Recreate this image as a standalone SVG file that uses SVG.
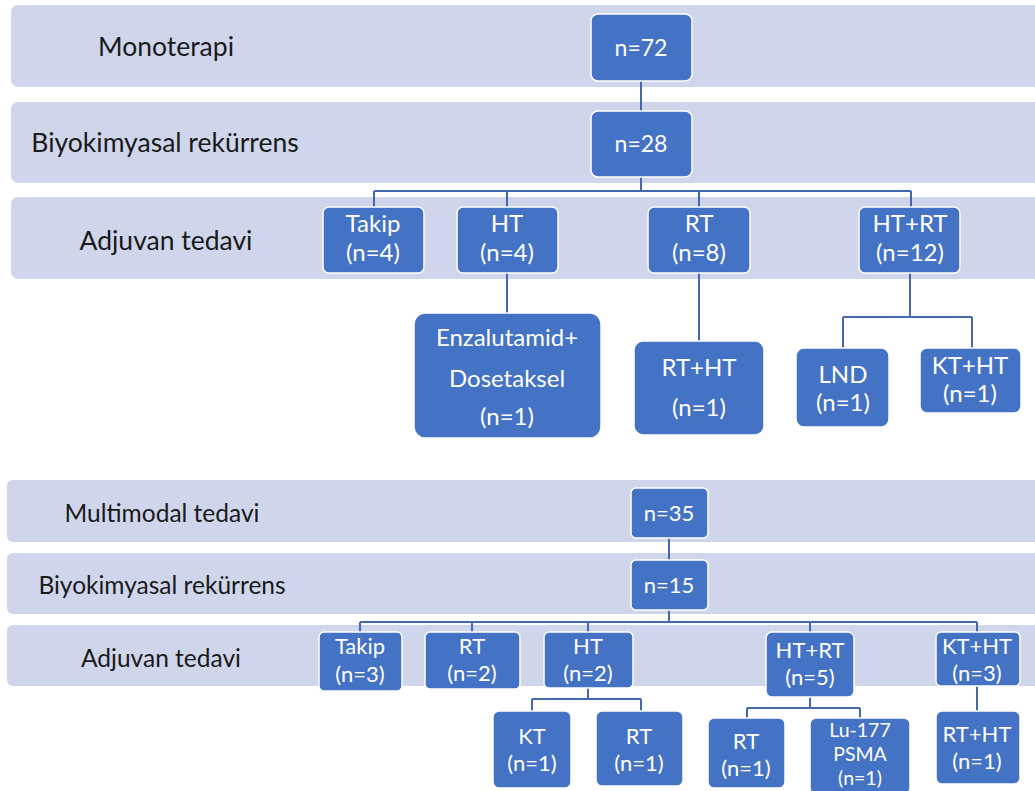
<svg xmlns="http://www.w3.org/2000/svg" width="1035" height="791" viewBox="0 0 1035 791">
<style>
.band{fill:#CFD5EA}
.node{fill:#4472C4;stroke:#FFFFFF;stroke-width:1.5}
.lbl{font-family:Lato,"Open Sans",sans-serif;fill:#1A1A1A;text-anchor:middle;dominant-baseline:central}
.t{font-family:Lato,"Open Sans",sans-serif;fill:#FFFFFF;text-anchor:middle;dominant-baseline:central}
.a{font-size:26.5px}
.b{font-size:24.5px}
.c{font-size:24px}
.d{font-size:22px}
.e{font-size:19.5px}
.conn{fill:none;stroke:#4268AE;stroke-width:2}
</style>
<rect width="1035" height="791" fill="#FFFFFF"/>
<g id="bands">
<rect class="band" x="11" y="5" width="1040" height="82" rx="7"/>
<rect class="band" x="11" y="102" width="1040" height="81" rx="7"/>
<rect class="band" x="11" y="197" width="1040" height="82" rx="7"/>
<rect class="band" x="7" y="480" width="1040" height="62" rx="6"/>
<rect class="band" x="7" y="553" width="1040" height="61" rx="6"/>
<rect class="band" x="7" y="625" width="1040" height="61" rx="6"/>
<text class="lbl a" x="166" y="46">Monoterapi</text>
<text class="lbl a" x="165" y="142">Biyokimyasal rekürrens</text>
<text class="lbl a" x="166" y="240">Adjuvan tedavi</text>
<text class="lbl b" x="162" y="512">Multimodal tedavi</text>
<text class="lbl b" x="162" y="584">Biyokimyasal rekürrens</text>
<text class="lbl b" x="161" y="657">Adjuvan tedavi</text>
</g>
<g id="connectors">
<path class="conn" d="M641 81V111"/>
<path class="conn" d="M641 177V191M374 191H911M374 191V207M507 191V207M699 191V207M911 191V207"/>
<path class="conn" d="M507 273V313"/>
<path class="conn" d="M699 273V341"/>
<path class="conn" d="M910 273V317M843 317H972M843 317V348M972 317V348"/>
<path class="conn" d="M669 538V560"/>
<path class="conn" d="M669 610V622M360 622H977M360 622V632M472 622V632M588 622V632M810 622V632M977 622V632"/>
<path class="conn" d="M588 688V699M532 699H641M532 699V711M641 699V711"/>
<path class="conn" d="M810 697V708M747 708H860M747 708V718M860 708V718"/>
<path class="conn" d="M977 686V711"/>
</g>
<g id="n72"><rect class="node" x="591" y="14" width="101" height="67" rx="7"/><text class="t c" x="641" y="47" style="font-size:23px">n=72</text></g>
<g id="n28"><rect class="node" x="591" y="111" width="101" height="66" rx="7"/><text class="t c" x="641" y="143" style="font-size:23px">n=28</text></g>
<g id="takip1"><rect class="node" x="323" y="207" width="101" height="66" rx="6"/><text class="t c" x="373" y="222">Takip</text><text class="t c" x="373" y="251">(n=4)</text></g>
<g id="ht1"><rect class="node" x="457" y="207" width="101" height="66" rx="6"/><text class="t c" x="507" y="222">HT</text><text class="t c" x="507" y="251">(n=4)</text></g>
<g id="rt1"><rect class="node" x="648" y="207" width="102" height="66" rx="6"/><text class="t c" x="699" y="222">RT</text><text class="t c" x="699" y="251">(n=8)</text></g>
<g id="htrt1"><rect class="node" x="859" y="207" width="101" height="66" rx="6"/><text class="t c" x="910" y="222">HT+RT</text><text class="t c" x="910" y="251">(n=12)</text></g>
<g id="enz"><rect class="node" x="414" y="313" width="187" height="125" rx="11"/><text class="t c" x="507" y="336">Enzalutamid+</text><text class="t c" x="507" y="377">Dosetaksel</text><text class="t c" x="507" y="415">(n=1)</text></g>
<g id="rtht1"><rect class="node" x="634" y="341" width="130" height="94" rx="9"/><text class="t c" x="699" y="366">RT+HT</text><text class="t c" x="699" y="406">(n=1)</text></g>
<g id="lnd"><rect class="node" x="796" y="348" width="93" height="79" rx="8"/><text class="t c" x="843" y="373">LND</text><text class="t c" x="843" y="401">(n=1)</text></g>
<g id="ktht1"><rect class="node" x="920" y="348" width="101" height="65" rx="7"/><text class="t c" x="970" y="364">KT+HT</text><text class="t c" x="970" y="392">(n=1)</text></g>
<g id="n35"><rect class="node" x="631" y="488" width="77" height="50" rx="5"/><text class="t d" x="669" y="512">n=35</text></g>
<g id="n15"><rect class="node" x="631" y="560" width="77" height="50" rx="5"/><text class="t d" x="669" y="584">n=15</text></g>
<g id="takip2"><rect class="node" x="319" y="632" width="83" height="59" rx="5"/><text class="t d" x="360" y="645">Takip</text><text class="t d" x="360" y="673">(n=3)</text></g>
<g id="rt2"><rect class="node" x="425" y="632" width="95" height="57" rx="5"/><text class="t d" x="472" y="645">RT</text><text class="t d" x="472" y="672">(n=2)</text></g>
<g id="ht2"><rect class="node" x="544" y="632" width="89" height="56" rx="5"/><text class="t d" x="588" y="645">HT</text><text class="t d" x="588" y="672">(n=2)</text></g>
<g id="htrt2"><rect class="node" x="766" y="632" width="88" height="65" rx="6"/><text class="t d" x="810" y="649">HT+RT</text><text class="t d" x="810" y="676">(n=5)</text></g>
<g id="ktht2"><rect class="node" x="936" y="632" width="84" height="54" rx="5"/><text class="t d" x="977" y="645">KT+HT</text><text class="t d" x="977" y="672">(n=3)</text></g>
<g id="kt3"><rect class="node" x="493" y="711" width="78" height="77" rx="6"/><text class="t d" x="532" y="735">KT</text><text class="t d" x="532" y="762">(n=1)</text></g>
<g id="rt3"><rect class="node" x="596" y="711" width="87" height="75" rx="6"/><text class="t d" x="639" y="735">RT</text><text class="t d" x="639" y="762">(n=1)</text></g>
<g id="rt4"><rect class="node" x="708" y="718" width="77" height="70" rx="6"/><text class="t d" x="746" y="740">RT</text><text class="t d" x="746" y="767">(n=1)</text></g>
<g id="lu177"><rect class="node" x="810" y="718" width="100" height="76" rx="6"/><text class="t e" x="860" y="729">Lu-177</text><text class="t e" x="860" y="753">PSMA</text><text class="t e" x="860" y="777">(n=1)</text></g>
<g id="rtht2"><rect class="node" x="936" y="711" width="84" height="73" rx="6"/><text class="t d" x="977" y="733">RT+HT</text><text class="t d" x="977" y="760">(n=1)</text></g>
</svg>
